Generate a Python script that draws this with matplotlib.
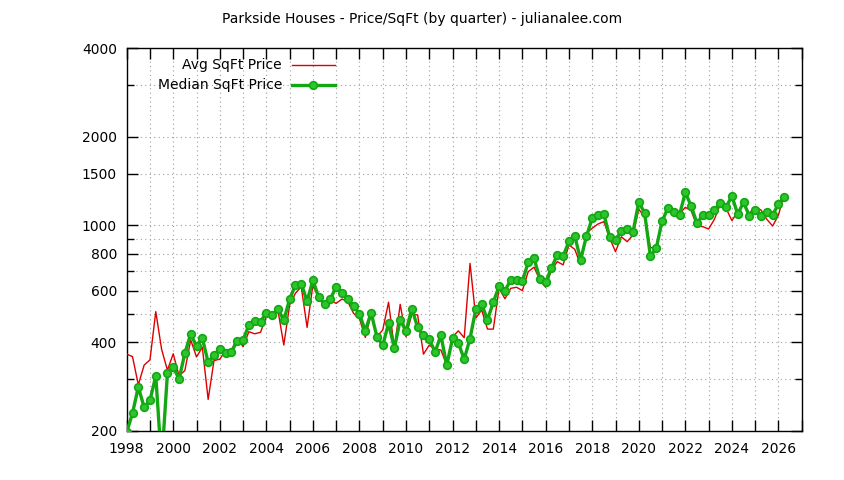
import matplotlib
matplotlib.use("Agg")
import matplotlib.pyplot as plt
import matplotlib.ticker as mticker
from matplotlib.lines import Line2D
import numpy as np

start_year = 1998

avg_price = [
    365, 358, 287, 335, 349, 509, 379, 322,          # 1998-1999
    366, 308, 321, 408, 357, 385, 256, 347,          # 2000-2001
    351, 375, 377, 414, 387, 435, 428, 433,          # 2002-2003
    490, 496, 513, 392, 536, 588, 619, 450,          # 2004-2005
    627, 565, 543, 555, 543, 562, 550, 502,          # 2006-2007
    482, 416, 498, 418, 441, 548, 382, 539,          # 2008-2009
    418, 499, 496, 365, 392, 380, 377, 335,          # 2010-2011
    418, 438, 415, 743, 484, 516, 444, 444,          # 2012-2013
    611, 563, 611, 616, 600, 696, 721, 652,          # 2014-2015
    616, 705, 753, 734, 858, 829, 734, 940,          # 2016-2017
    978, 1011, 1030, 905, 814, 915, 880, 928,        # 2018-2019
    1134, 1071, 840, 840, 1035, 1143, 1110, 1095,    # 2020-2021
    1152, 1122, 995, 990, 972, 1049, 1180, 1143,     # 2022-2023
    1038, 1113, 1183, 1099, 1157, 1128, 1049, 995,   # 2024-2025
    1083, 1279,                                      # 2026
]

median_price = [
    198, 230, 282, 241, 254, 308, 155, 314,          # 1998-1999
    331, 300, 368, 427, 388, 414, 342, 362,          # 2000-2001
    380, 368, 371, 405, 408, 458, 473, 471,          # 2002-2003
    505, 495, 520, 476, 561, 627, 634, 552,          # 2004-2005
    651, 570, 539, 562, 618, 588, 561, 533,          # 2006-2007
    500, 438, 505, 418, 391, 465, 382, 477,          # 2008-2009
    437, 521, 450, 423, 410, 371, 423, 334,          # 2010-2011
    413, 398, 351, 412, 520, 540, 477, 548,          # 2012-2013
    622, 600, 652, 652, 646, 749, 773, 659,          # 2014-2015
    641, 718, 793, 785, 883, 921, 763, 918,          # 2016-2017
    1057, 1085, 1093, 911, 890, 955, 970, 948,       # 2018-2019
    1201, 1102, 786, 835, 1034, 1143, 1110, 1086,    # 2020-2021
    1294, 1164, 1017, 1083, 1084, 1128, 1189, 1152,  # 2022-2023
    1260, 1091, 1198, 1077, 1128, 1077, 1109, 1084,  # 2024-2025
    1182, 1251,                                      # 2026
]

title = "Parkside Houses - Price/SqFt (by quarter) - julianalee.com"
label_avg = "Avg SqFt Price"
label_median = "Median SqFt Price"
y_major = [200, 400, 600, 800, 1000, 1500, 2000, 4000]
y_minor = [300, 500, 700, 900, 3000]
x_min, x_max = 1998, 2027

quarters = start_year + np.arange(len(median_price)) * 0.25

plt.rcParams['font.family'] = ['DejaVu Sans']
fig = plt.figure(figsize=(8.44, 4.80), dpi=100)
ax = fig.add_axes([0.1501, 0.1021, 0.7998, 0.7973])

red = '#dd0000'
green = '#12a812'
FS = 10

ax.plot(quarters, avg_price, color=red, lw=1.0, zorder=3)
ax.plot(quarters, median_price, color=green, lw=2.4, marker='o', ms=5.5,
        markerfacecolor='#2ec42e', markeredgecolor=green, markeredgewidth=1.2, zorder=4)

ax.set_yscale('log')
ax.set_ylim(200, 4000)
ax.set_xlim(x_min, x_max)

ax.yaxis.set_major_locator(mticker.FixedLocator(y_major))
ax.yaxis.set_major_formatter(mticker.FixedFormatter([str(v) for v in y_major]))
ax.yaxis.set_minor_locator(mticker.FixedLocator(y_minor))
ax.yaxis.set_minor_formatter(mticker.NullFormatter())

years = list(range(x_min, x_max + 1))
ax.xaxis.set_major_locator(mticker.FixedLocator(years))
ax.xaxis.set_major_formatter(mticker.FixedFormatter(
    [str(y) if y % 2 == 0 and y < x_max else "" for y in years]))

ax.tick_params(axis='both', which='major', direction='in', length=8, width=1,
               top=True, right=True, labelsize=FS, color='black')
ax.tick_params(axis='y', which='major', pad=7)
ax.tick_params(axis='x', which='major', pad=8)
ax.tick_params(axis='y', which='minor', direction='in', length=5, width=1,
               left=True, right=True)

grid_style = dict(color='#a0a0a0', linestyle=(0, (1, 3)), linewidth=0.8)
ax.grid(True, which='major', axis='both', **grid_style)
ax.grid(True, which='minor', axis='y', **grid_style)
ax.set_axisbelow(True)

for s in ax.spines.values():
    s.set_linewidth(1.0)
    s.set_color('black')

fig.text(0.5, 0.96, title, ha='center', va='center', fontsize=FS)

# legend (gnuplot style: text right-aligned, sample on the right)
ax.text(0.230, 0.9556, label_avg, transform=ax.transAxes, ha='right', va='center', fontsize=FS)
ax.text(0.230, 0.9033, label_median, transform=ax.transAxes, ha='right', va='center', fontsize=FS)
ax.add_line(Line2D([0.2453, 0.3086], [0.9556, 0.9556], transform=ax.transAxes,
                   color=red, lw=1.0))
ax.add_line(Line2D([0.2453, 0.3086], [0.9033, 0.9033], transform=ax.transAxes,
                   color=green, lw=2.4))
ax.add_line(Line2D([0.2756], [0.9033], transform=ax.transAxes, color=green, marker='o',
                   ms=5.5, markerfacecolor='#2ec42e', markeredgecolor=green, markeredgewidth=1.2))

fig.savefig('out.png', dpi=100, facecolor='white')
